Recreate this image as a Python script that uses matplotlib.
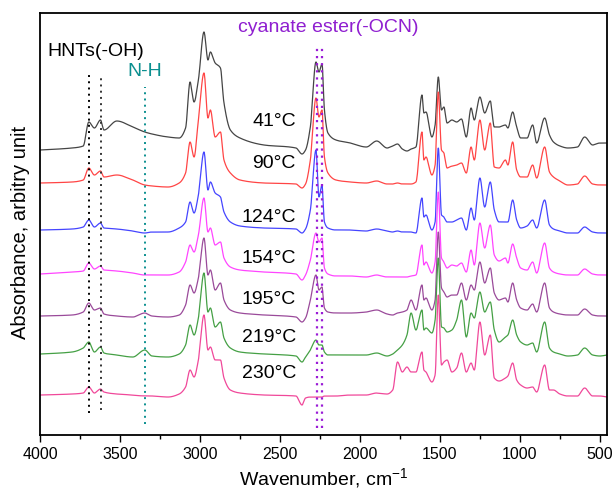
import numpy as np
import matplotlib
matplotlib.use("Agg")
import matplotlib.pyplot as plt
from matplotlib.ticker import MultipleLocator

plt.rcParams['font.family'] = ['Liberation Sans', 'DejaVu Sans']
plt.rcParams['mathtext.fontset'] = 'custom'
plt.rcParams['mathtext.rm'] = 'Liberation Sans'

# Wavenumber grid (cm-1) shared by all spectra
wavenumber = [4000, 3800, 3730, 3695, 3660, 3622, 3600, 3520, 3420, 3345,
              3300, 3200, 3130, 3090, 3062, 3037, 3010, 2975, 2950, 2935,
              2905, 2872, 2850, 2810, 2750, 2600, 2400, 2362, 2340, 2310,
              2275, 2256, 2237, 2222, 2200, 2150, 2060, 1960, 1895, 1830,
              1795, 1765, 1735, 1706, 1680, 1650, 1612, 1600, 1587, 1550,
              1530, 1510, 1490, 1475, 1455, 1425, 1395, 1365, 1335, 1305,
              1285, 1250, 1220, 1185, 1160, 1130, 1090, 1075, 1045, 1020,
              995, 955, 920, 895, 845, 815, 790, 750, 700, 640,
              595, 545, 500, 455]

temperatures = ["41", "90", "124", "154", "195", "219", "230"]

# Absorbance (arbitrary units) above each trace's own baseline
abs_41 = [0, 2, 4, 28, 22, 30, 20, 29, 23, 18,
          16, 13, 12, 22, 68, 48, 70, 118, 90, 98,
          87, 82, 47, 20, 12, 5, 2, -4, 0, 23,
          88, 78, 86, 40, 17, 10, 7, 3, 9, 2,
          4, 6, 1, -1, 1, 3, 55, 37, 38, 13,
          25, 73, 40, 43, 27, 30, 28, 31, 13, 42,
          30, 53, 37, 49, 23, 23, 25, 22, 38, 23,
          12, 12, 25, 7, 32, 15, 8, 4, 2, 3,
          13, 5, 7, 7]
abs_90 = [0, 1, 3, 15, 8, 12, 6, 8, 3, -2,
          -3, -4, 0, 10, 41, 26, 63, 110, 65, 73,
          46, 51, 23, 10, 3, 0, -1, -5, -1, 23,
          85, 66, 73, 26, 10, 3, 1, 0, 2, -1,
          -1, 0, -1, -1, -1, 1, 51, 23, 26, 8,
          18, 91, 33, 30, 15, 17, 18, 20, 10, 36,
          23, 63, 33, 60, 16, 15, 23, 18, 41, 13,
          6, 6, 18, 5, 36, 11, 6, 2, -2, -1,
          7, -1, -2, -2]
abs_124 = [0, 1, 3, 10, 3, 7, 2, 1, -1, -3,
           -2, -2, 2, 8, 28, 17, 35, 78, 40, 48,
           37, 33, 18, 8, 4, 2, 1, -3, 1, 20,
           80, 33, 45, 8, 2, 0, 0, -1, 1, -1,
           -2, -1, -2, -2, -2, -3, 32, 13, 15, 0,
           8, 82, 15, 13, 8, 8, 10, 12, 0, 22,
           10, 52, 23, 48, 20, 8, 8, 8, 30, 10,
           2, 4, 10, 2, 30, 5, 1, -1, -3, -3,
           3, -2, -3, -3]
abs_154 = [0, 2, 3, 11, 5, 8, 4, 3, 1, -1,
           -1, -1, 2, 12, 29, 22, 39, 76, 42, 46,
           29, 32, 16, 7, 4, 2, 0, -6, -1, 14,
           41, 32, 36, 6, 0, -2, -2, -3, -1, -3,
           -3, -3, -3, -3, -2, -1, 29, 9, 12, 1,
           12, 82, 16, 12, 6, 9, 8, 11, 2, 24,
           9, 51, 26, 49, 19, 13, 16, 11, 30, 16,
           6, 4, 12, 1, 31, 6, 2, 0, -1, -1,
           5, 0, -1, -1]
abs_195 = [0, 1, 4, 13, 6, 8, 2, 0, -1, 3,
           0, -1, 1, 11, 31, 23, 38, 78, 41, 46,
           26, 33, 16, 6, 3, 1, -1, -6, -2, 16,
           41, 26, 29, 8, 4, 3, 3, 4, 6, 2,
           1, 3, 4, 6, 16, 6, 31, 16, 18, 6,
           16, 84, 28, 24, 19, 21, 21, 33, 16, 31,
           26, 54, 33, 48, 23, 16, 18, 14, 33, 16,
           8, 6, 12, 4, 33, 8, 4, 2, 1, 1,
           7, 1, 0, 0]
abs_219 = [0, 2, 6, 12, 2, 7, 1, -1, -3, 4,
           -2, -3, 0, 9, 29, 19, 36, 81, 42, 46,
           27, 32, 16, 6, 2, 0, -2, -8, -3, 4,
           14, 9, 9, 2, -1, -1, -1, -1, 1, -2,
           0, 4, 9, 19, 41, 24, 44, 24, 26, 21,
           34, 96, 27, 26, 22, 24, 34, 54, 17, 41,
           36, 62, 42, 52, 24, 12, 17, 19, 34, 19,
           12, 9, 11, 2, 32, 6, 2, 0, -2, -1,
           6, -1, -2, -1]
abs_230 = [0, 1, 2, 8, 2, 6, 3, 1, 0, -1,
           -1, -2, 1, 8, 25, 18, 35, 80, 45, 48,
           35, 35, 17, 5, 2, 0, -1, -10, -3, -2,
           -2, -2, -2, -1, -1, -1, 0, 0, 2, 1,
           5, 33, 23, 28, 23, 23, 43, 25, 23, 13,
           20, 100, 30, 33, 35, 23, 27, 42, 23, 32,
           25, 73, 40, 60, 17, 14, 17, 19, 32, 15,
           10, 7, 8, 3, 30, 5, 5, 1, -1, -1,
           7, -1, -1, -2]

spectra = [abs_41, abs_90, abs_124, abs_154, abs_195, abs_219, abs_230]
offsets = [285, 252, 205, 161, 119, 81, 40]
colors = ['#454545', '#ff4545', '#4545ff', '#ff45ff', '#9a4a9a', '#45a045', '#f0489a']
label_y = [313, 272, 218, 177, 136, 98, 62]

# Characteristic band positions (cm-1)
oh_bands = [3695, 3620]
nh_band = 3345
ocn_bands = [2270, 2235]


def pchip(x, y, xs):
    """Monotone cubic (Fritsch-Carlson) interpolation, x ascending."""
    x = np.asarray(x, float)
    y = np.asarray(y, float)
    h = np.diff(x)
    d = np.diff(y) / h
    m = np.zeros_like(y)
    for k in range(1, len(x) - 1):
        if d[k - 1] * d[k] > 0:
            w1 = 2 * h[k] + h[k - 1]
            w2 = h[k] + 2 * h[k - 1]
            m[k] = (w1 + w2) / (w1 / d[k - 1] + w2 / d[k])
    m[0], m[-1] = d[0], d[-1]
    idx = np.clip(np.searchsorted(x, xs) - 1, 0, len(x) - 2)
    t = (xs - x[idx]) / h[idx]
    h00 = 2 * t**3 - 3 * t**2 + 1
    h10 = t**3 - 2 * t**2 + t
    h01 = -2 * t**3 + 3 * t**2
    h11 = t**3 - t**2
    return (h00 * y[idx] + h10 * h[idx] * m[idx]
            + h01 * y[idx + 1] + h11 * h[idx] * m[idx + 1])


fig = plt.figure(figsize=(6.13, 4.94), dpi=100)
ax = fig.add_axes([0.0653, 0.1194, 0.925, 0.8543])

wn = np.asarray(wavenumber, float)[::-1]
wn_fine = np.linspace(wn[0], wn[-1], 3000)
for vals, off, col in zip(spectra, offsets, colors):
    v = np.asarray(vals, float)[::-1]
    ax.plot(wn_fine, off + pchip(wn, v, wn_fine), color=col, lw=0.9)

for t, yl in zip(temperatures, label_y):
    ax.text(2400, yl, t + '°C', ha='right', va='center',
            fontsize=14, color='black')

dots = (0, (1, 2.2))
ax.plot([oh_bands[0]] * 2, [22, 360], color='black', lw=1.4, ls=dots)
ax.plot([oh_bands[1]] * 2, [25, 360], color='#333333', lw=1.4, ls=dots)
ax.plot([nh_band] * 2, [11, 348], color='#0a8f8f', lw=1.4, ls=dots)
for b in ocn_bands:
    ax.plot([b] * 2, [7, 388], color='#9a1bd6', lw=1.6, ls=dots)

ax.text(3956, 383, 'HNTs(-OH)', fontsize=14, color='black', ha='left', va='center')
ax.text(3345, 363, 'N-H', fontsize=14, color='#0a8f8f', ha='center', va='center')
ax.text(2200, 407, 'cyanate ester(-OCN)', fontsize=14, color='#8f1fd0',
        ha='center', va='center')

ax.set_xlim(4000, 455)
ax.set_ylim(0, 422)
ax.xaxis.set_major_locator(MultipleLocator(500))
ax.xaxis.set_minor_locator(MultipleLocator(250))
ax.tick_params(axis='x', which='major', direction='out', length=5, width=1,
               labelsize=11.5, top=False)
ax.tick_params(axis='x', which='minor', direction='out', length=3, width=1, top=False)
ax.set_yticks([])
for s in ax.spines.values():
    s.set_linewidth(1.3)

ax.set_xlabel('Wavenumber, cm$^{-1}$', fontsize=14, labelpad=3)
ax.set_ylabel('Absorbance, arbitry unit', fontsize=14.5)
ax.yaxis.set_label_coords(-0.018, 0.48)

fig.savefig('out.png', dpi=100)
